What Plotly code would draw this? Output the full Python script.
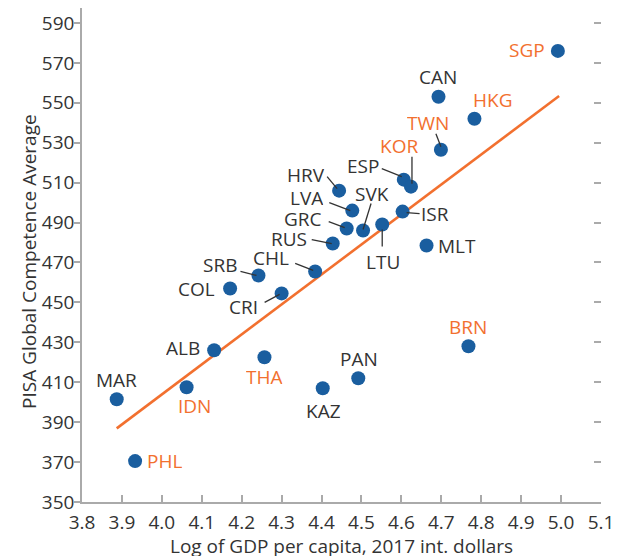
import plotly.graph_objects as go

# ---------------- data ----------------
countries = ["SGP", "CAN", "HKG", "TWN", "ESP", "KOR", "HRV", "LVA", "ISR", "GRC",
             "SVK", "LTU", "RUS", "MLT", "CHL", "SRB", "COL", "CRI", "ALB", "THA",
             "IDN", "MAR", "PHL", "KAZ", "PAN", "BRN"]
gdp_log = [4.992, 4.693, 4.783, 4.699, 4.606, 4.624, 4.444, 4.477, 4.603, 4.463,
           4.504, 4.552, 4.428, 4.663, 4.384, 4.242, 4.171, 4.300, 4.131, 4.257,
           4.062, 3.887, 3.933, 4.403, 4.492, 4.768]
pisa = [576, 553, 542, 526.5, 511.5, 508, 506, 496, 495.5, 487,
        486, 489, 479.5, 478.5, 465.5, 463.5, 457, 454.5, 426, 422.5,
        407.5, 401.5, 370.5, 407, 412, 428]
orange_labels = ["SGP", "HKG", "TWN", "KOR", "THA", "IDN", "PHL", "BRN"]

trend_x = [3.887, 4.995]
trend_y = [386.9, 553.4]

x_ticks = [3.8, 3.9, 4.0, 4.1, 4.2, 4.3, 4.4, 4.5, 4.6, 4.7, 4.8, 4.9, 5.0, 5.1]
y_ticks = [350, 370, 390, 410, 430, 450, 470, 490, 510, 530, 550, 570, 590]

x_title = "Log of GDP per capita, 2017 int. dollars"
y_title = "PISA Global Competence Average"

# ---------------- label placement (pixel offsets from the dot) ----------------
label_offset = {
    "SGP": (-31, -1), "CAN": (-1, -20), "HKG": (18, -19), "TWN": (-13, -27),
    "KOR": (-12, -41), "ESP": (-41, -14), "HRV": (-33, -16), "LVA": (-46, -13),
    "ISR": (32, 2), "GRC": (-44, -10), "SVK": (9, -37), "LTU": (1, 37),
    "RUS": (-44, -5), "MLT": (30, 0), "CHL": (-44, -13), "SRB": (-38, -10),
    "COL": (-34, 1), "CRI": (-38, 14), "ALB": (-31, -2), "THA": (0, 20),
    "IDN": (8, 19), "MAR": (0, -19), "PHL": (29, 0), "KAZ": (1, 23),
    "PAN": (1, -19), "BRN": (0, -19),
}
leaders = {
    "TWN": (-5, -16, 0, -3), "KOR": (1, -30, 1, -3), "ESP": (-22, -11, -2, -3),
    "HRV": (-12, -14, -2, -2), "LVA": (-23, -8, -2, 0), "GRC": (-18, -7, -2, -1),
    "RUS": (-21, -4, -1, 0), "SVK": (8, -27, 0, -1), "LTU": (0, 5, 0, 22),
    "ISR": (4, 1, 17, 2), "CHL": (-20, -8, -2, -1), "SRB": (-18, -4, -2, 0),
    "CRI": (-17, 9, -2, 1),
}

# ---------------- layout geometry ----------------
# the page body adds an 8px offset, so the figure is 8px smaller than the window
OFF = 8
W, H = 623 - OFF, 558 - OFF
ML, MR, MT, MB = 82 - OFF, 22, 8 - OFF, 56
PW, PH = W - ML - MR, H - MT - MB
x_range = [3.8, 5.1]
y_range = [350, 597.5]
xs = PW / (x_range[1] - x_range[0])
ys = PH / (y_range[1] - y_range[0])

BLUE = "#1a5e9f"
ORANGE = "#f2702f"
TEXT = "#333333"
AXIS = "#aaaaaa"
FONT = "Open Sans"
FS = 19

fig = go.Figure()
fig.add_trace(go.Scatter(x=trend_x, y=trend_y, mode="lines",
                         line=dict(color=ORANGE, width=2.6), hoverinfo="skip",
                         showlegend=False))
fig.add_trace(go.Scatter(x=gdp_log, y=pisa, mode="markers", text=countries,
                         marker=dict(color=BLUE, size=14, line=dict(width=0)),
                         showlegend=False))
# invisible trace on the mirrored right axis
fig.add_trace(go.Scatter(x=[4.0], y=[400], yaxis="y2", mode="markers",
                         marker=dict(opacity=0), hoverinfo="skip", showlegend=False))

annotations = []
shapes = []
for c, gx, py in zip(countries, gdp_log, pisa):
    dx, dy = label_offset[c]
    annotations.append(dict(
        x=gx, y=py, xref="x", yref="y", text=c, showarrow=False,
        xshift=dx, yshift=-dy, xanchor="center", yanchor="middle",
        height=18, borderpad=0,
        font=dict(family=FONT, size=FS,
                  color=ORANGE if c in orange_labels else TEXT)))
    if c in leaders:
        sx, sy, ex, ey = leaders[c]
        shapes.append(dict(
            type="line", xref="x", yref="y", layer="above",
            x0=gx + sx / xs, y0=py - sy / ys, x1=gx + ex / xs, y1=py - ey / ys,
            line=dict(color=TEXT, width=1.3)))

# axis titles (window pixel positions -> paper coords)
bottom = H - MB  # figure px of plot bottom
annotations.append(dict(xref="paper", yref="paper", x=0.5,
                        y=-((546 - OFF) - bottom) / PH,
                        text=x_title, showarrow=False, xanchor="center", yanchor="middle",
                        height=20, borderpad=0,
                        font=dict(family=FONT, size=FS, color=TEXT)))
annotations.append(dict(xref="paper", yref="paper", x=((29 - OFF) - ML) / PW,
                        y=(bottom - (262 - OFF)) / PH, text=y_title, textangle=-90,
                        showarrow=False, xanchor="center", yanchor="middle",
                        font=dict(family=FONT, size=FS, color=TEXT)))

fig.update_layout(
    width=W, height=H,
    margin=dict(l=ML, r=MR, t=MT, b=MB, autoexpand=False),
    paper_bgcolor="white", plot_bgcolor="white",
    font=dict(family=FONT, size=FS, color=TEXT),
    annotations=annotations, shapes=shapes,
    xaxis=dict(range=x_range, tickvals=x_ticks,
               ticktext=[f"{v:.1f}" for v in x_ticks], automargin=False,
               showgrid=False, zeroline=False, showline=True,
               linecolor=AXIS, linewidth=1.5, ticks="inside", ticklen=7,
               tickcolor=AXIS, tickwidth=1.5, ticklabelstandoff=2),
    yaxis=dict(range=y_range, tickvals=y_ticks, automargin=False,
               showgrid=False, zeroline=False, showline=True,
               linecolor=AXIS, linewidth=1.5, ticks="outside", ticklen=6,
               tickcolor=AXIS, tickwidth=1.5, ticklabelstandoff=-4),
    yaxis2=dict(range=y_range, tickvals=y_ticks, overlaying="y", side="right",
                anchor="x", showticklabels=False, showgrid=False, zeroline=False,
                showline=False, ticks="inside", ticklen=7, tickcolor=AXIS,
                tickwidth=1.5, automargin=False),
)

fig.write_html("out.html")
